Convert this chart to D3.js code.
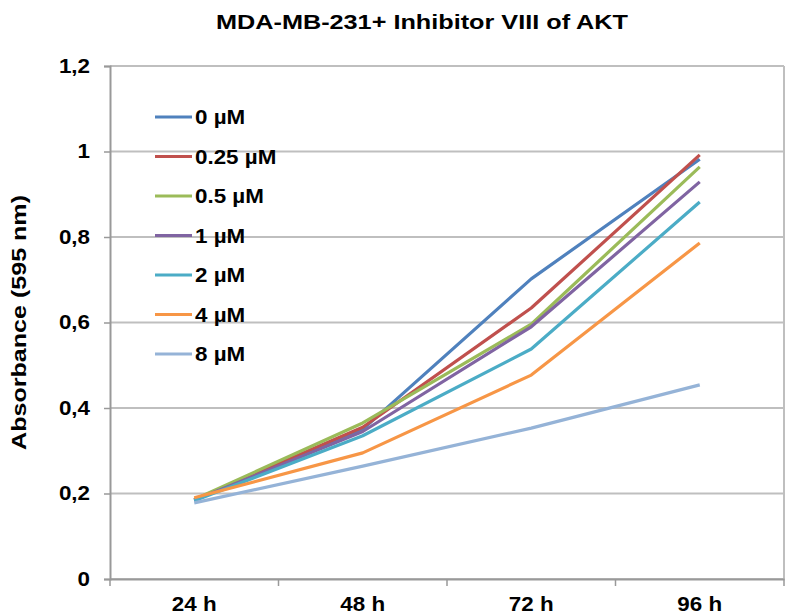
<!DOCTYPE html>
<html><head><meta charset="utf-8">
<script src="https://cdn.jsdelivr.net/npm/d3@7"></script>
<style>body{margin:0;background:#fff;} svg{display:block;font-family:"Liberation Sans",Arial,sans-serif;}</style>
</head><body><svg id="c" width="787" height="616"></svg>
<script>
const categories = ["24 h","48 h","72 h","96 h"];
const seriesNames = ["0 µM","0.25 µM","0.5 µM","1 µM","2 µM","4 µM","8 µM"];
const s0   = [0.185,0.350,0.702,0.982];
const s025 = [0.185,0.355,0.634,0.992];
const s05  = [0.186,0.365,0.596,0.964];
const s1   = [0.184,0.345,0.590,0.929];
const s2   = [0.183,0.335,0.538,0.882];
const s4   = [0.190,0.295,0.477,0.786];
const s8   = [0.178,0.264,0.353,0.454];
const yTicks = [0,0.2,0.4,0.6,0.8,1,1.2];
const colors = ["#4F81BD","#C0504D","#9BBB59","#8064A2","#4BACC6","#F79646","#95B3D7"];
const seriesValues = [s0,s025,s05,s1,s2,s4,s8];

const svg = d3.select("#c");
const m = {l:110, r:784, t:66, b:579};
const x = d3.scaleBand().domain(categories).range([m.l, m.r]);
const y = d3.scaleLinear().domain([0,1.2]).range([m.b, m.t]);
const fmt = d => d3.format("")(d).replace(".", ",");
const FS = 20, SX = 1.12;

// gridlines
svg.append("g").selectAll("line").data(yTicks).join("line")
  .attr("x1", m.l).attr("x2", m.r).attr("y1", d=>y(d)).attr("y2", d=>y(d))
  .attr("stroke", "#BFBFBF").attr("stroke-width", 2);
svg.append("line").attr("x1", m.r).attr("x2", m.r).attr("y1", m.t).attr("y2", m.b)
  .attr("stroke", "#BFBFBF").attr("stroke-width", 2);

// y axis
const ya = svg.append("g").attr("transform", `translate(${m.l},0)`)
  .call(d3.axisLeft(y).tickValues(yTicks).tickFormat(fmt).tickSize(6).tickPadding(14));
ya.select(".domain").attr("stroke", "#999").attr("stroke-width", 2);
ya.selectAll(".tick line").attr("stroke", "#999").attr("stroke-width", 1.5);
ya.selectAll("text").attr("font-size", FS).attr("font-weight", "bold").attr("fill", "#000")
  .attr("font-family", "Liberation Sans, Arial, sans-serif")
  .attr("transform", function(){ const xx = +d3.select(this).attr("x"); return `translate(${xx*(1-SX)},0) scale(${SX},1)`; });

// x axis
const xa = svg.append("g").attr("transform", `translate(0,${m.b})`)
  .call(d3.axisBottom(x).tickSize(0).tickPadding(18));
xa.select(".domain").attr("stroke", "#999").attr("stroke-width", 2);
xa.selectAll("text").attr("font-size", FS).attr("font-weight", "bold").attr("fill", "#000")
  .attr("font-family", "Liberation Sans, Arial, sans-serif")
  .attr("transform", `scale(${SX},1)`);
const bounds = categories.map(c => x(c)).concat([m.r]);
svg.append("g").selectAll("line").data(bounds).join("line")
  .attr("x1", d=>d).attr("x2", d=>d).attr("y1", m.b).attr("y2", m.b+7)
  .attr("stroke", "#999").attr("stroke-width", 1.5);

// lines
const line = d3.line().x((d,i)=>x(categories[i]) + x.bandwidth()/2).y(d=>y(d));
svg.append("g").selectAll("path").data(seriesValues).join("path")
  .attr("d", d=>line(d)).attr("fill","none")
  .attr("stroke", (d,i)=>colors[i]).attr("stroke-width", 3.2).attr("stroke-linejoin","round");

// legend
const lg = svg.append("g").selectAll("g").data(seriesNames).join("g")
  .attr("transform", (d,i)=>`translate(155,${117 + i*39.5})`);
lg.append("line").attr("x1",0).attr("x2",37).attr("y1",0).attr("y2",0)
  .attr("stroke",(d,i)=>colors[i]).attr("stroke-width",3.2);
lg.append("text").attr("x",0).attr("y",0).attr("dy","0.36em").text(d=>d)
  .attr("font-size",FS).attr("font-weight","bold")
  .attr("transform", `translate(40,0) scale(${SX},1)`);

// title
svg.append("text").attr("x", 422).attr("y", 29).attr("text-anchor","middle")
  .attr("font-size", 21).attr("font-weight","bold")
  .attr("textLength", 412).attr("lengthAdjust","spacingAndGlyphs")
  .text("MDA-MB-231+ Inhibitor VIII of AKT");
// y label
svg.append("text").attr("transform", `translate(26,${(m.t+m.b)/2}) rotate(-90)`)
  .attr("text-anchor","middle").attr("font-size", 21).attr("font-weight","bold")
  .attr("textLength", 255).attr("lengthAdjust","spacingAndGlyphs")
  .text("Absorbance (595 nm)");
</script></body></html>
